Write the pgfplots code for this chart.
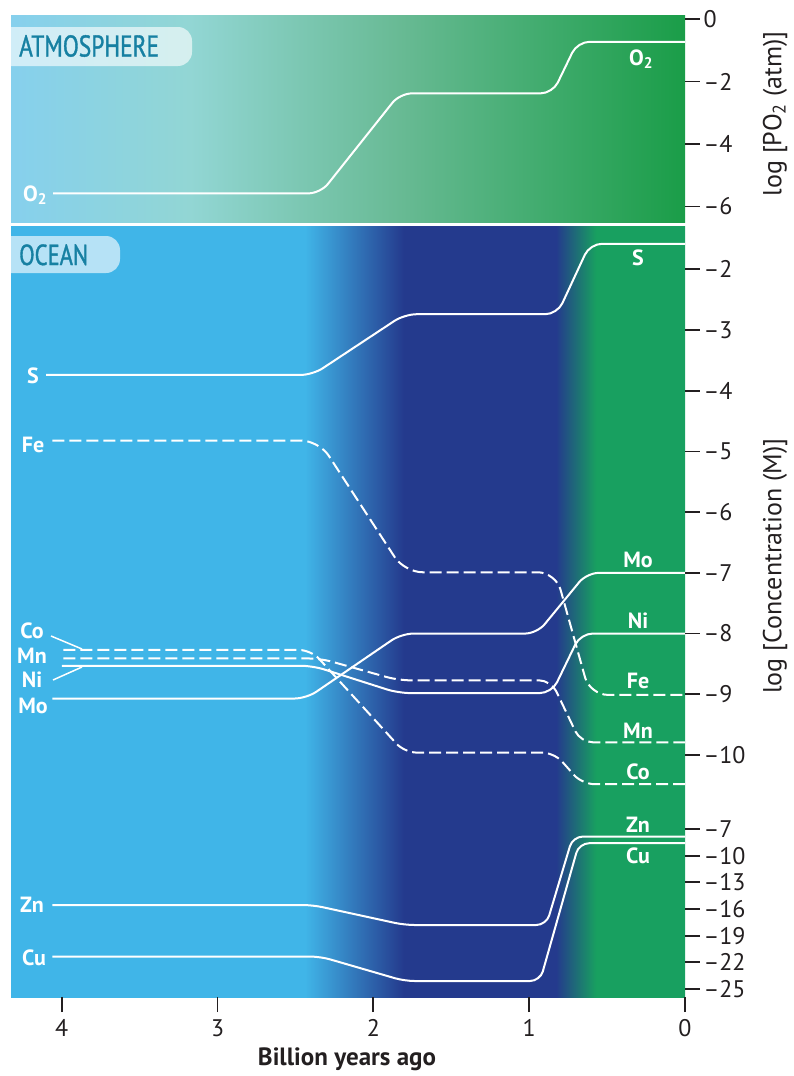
\documentclass[border=0pt]{standalone}
\usepackage{pgfplots}
\pgfplotsset{compat=1.18}
\usepackage{fontspec}
\setmainfont{PT Sans}
\newfontfamily\condfont[FakeStretch=0.78, FakeBold=1.2]{PT Sans}
\definecolor{skyL}{RGB}{134,208,237}
\definecolor{tealM}{RGB}{146,214,212}
\definecolor{greenM}{RGB}{104,186,148}
\definecolor{greenR}{RGB}{26,157,72}
\definecolor{oceanB}{RGB}{64,181,232}
\definecolor{navy}{RGB}{36,58,141}
\definecolor{oceanG}{RGB}{24,160,96}
\definecolor{labteal}{RGB}{22,128,162}
\definecolor{ink}{RGB}{35,31,32}
% shadings: the path box maps to 25bp..75bp
\pgfdeclarehorizontalshading{atmos}{100bp}{color(0bp)=(skyL); color(25bp)=(skyL); color(38.28bp)=(tealM); color(53.86bp)=(greenM); color(75bp)=(greenR); color(100bp)=(greenR)}
\pgfdeclarehorizontalshading{ocean}{100bp}{color(0bp)=(oceanB); color(46.8bp)=(oceanB); color(54.15bp)=(navy); color(65.43bp)=(navy); color(68.4bp)=(oceanG); color(100bp)=(oceanG)}
\pgfplotsset{
  panel/.style={
    scale only axis, anchor=north west, width=674pt,
    xmin=0, xmax=4.326, x dir=reverse,
    axis line style={draw=none},
    tick align=outside, major tick length=15pt,
    tick style={ink, line width=1.8pt},
    ytick pos=right, yticklabel pos=right,
    ticklabel style={font=\fontsize{24}{24}\selectfont, text=ink},
  },
  solidline/.style={white, line width=2pt},
  dashline/.style={white, line width=2pt, dash pattern=on 12pt off 5pt},
}
\begin{document}
\begin{tikzpicture}
\path[use as bounding box] (0pt,0pt) rectangle (794pt,-1076pt);
% backgrounds
\shade[shading=atmos] (11pt,-15pt) rectangle (685pt,-222pt);
\shade[shading=ocean] (11pt,-226pt) rectangle (685pt,-997pt);
% panel tags
\begin{scope}
\clip (11pt,-15pt) rectangle (685pt,-997pt);
\fill[white, opacity=0.62, rounded corners=14pt] (-20pt,-27pt) rectangle (192pt,-66pt);
\fill[white, opacity=0.62, rounded corners=14pt] (-20pt,-236pt) rectangle (120pt,-273pt);
\end{scope}
\node[anchor=base west, inner sep=0pt, text=labteal, font=\condfont\fontsize{30}{30}\selectfont] at (19pt,-56.5pt) {ATMOSPHERE};
\node[anchor=base west, inner sep=0pt, text=labteal, font=\condfont\fontsize{29}{29}\selectfont] at (19pt,-265pt) {OCEAN};

% ---------------- atmosphere axis
\begin{axis}[panel, at={(11pt,-15pt)}, height=207pt,
  ymin=-6.496, ymax=0.128,
  xtick=\empty,
  ytick={0,-2,-4,-6}, yticklabels={0,–2,–4,–6}]
\addplot[solidline, rounded corners=12pt] coordinates {
 (4.056,-5.58) (2.34,-5.58) (1.83,-2.38) (0.85,-2.38) (0.69,-0.73) (0,-0.73)};
\end{axis}

% ---------------- ocean axis
\begin{axis}[panel, at={(11pt,-226pt)}, height=771pt,
  ymin=-13.986, ymax=-1.287,
  xtick={0,1,2,3,4}, xticklabels={0,1,2,3,4}, xtick pos=left,
  xticklabel style={yshift=-4pt},
  ytick={-2,-3,-4,-5,-6,-7,-8,-9,-10},
  yticklabels={–2,–3,–4,–5,–6,–7,–8,–9,–10},
  extra y ticks={-11.219,-11.658,-12.098,-12.537,-12.976,-13.415,-13.854},
  extra y tick labels={–7,–10,–13,–16,–19,–22,–25}]
% S
\addplot[solidline, rounded corners=12pt] coordinates {
 (4.10,-3.74) (2.39,-3.74) (1.80,-2.74) (0.82,-2.74) (0.61,-1.58) (0,-1.58)};
% Fe
\addplot[dashline, rounded corners=18pt] coordinates {
 (4.06,-4.82) (2.35,-4.82) (1.80,-6.99) (0.83,-6.99) (0.61,-9.01) (0,-9.01)};
% Co
\addplot[dashline, rounded corners=12pt] coordinates {
 (3.99,-8.27) (2.40,-8.27) (1.80,-9.96) (0.84,-9.96) (0.66,-10.48) (0,-10.48)};
% Mn
\addplot[dashline, rounded corners=12pt] coordinates {
 (3.99,-8.41) (2.34,-8.41) (1.84,-8.77) (0.86,-8.77) (0.67,-9.79) (0,-9.79)};
% Ni
\addplot[solidline, rounded corners=12pt] coordinates {
 (4.00,-8.53) (2.39,-8.53) (1.84,-8.98) (0.855,-8.98) (0.67,-8.0) (0,-8.0)};
% Mo
\addplot[solidline, rounded corners=12pt] coordinates {
 (4.06,-9.07) (2.43,-9.07) (1.82,-8.0) (0.95,-8.0) (0.63,-7.0) (0,-7.0)};
% Zn (second scale, log M from -7 to -25)
\addplot[solidline, rounded corners=10pt, y filter/.expression={-11.219+(y+7)*0.1464}] coordinates {
 (4.06,-15.55) (2.39,-15.55) (1.80,-17.8) (0.89,-17.8) (0.72,-7.85) (0,-7.85)};
% Cu
\addplot[solidline, rounded corners=10pt, y filter/.expression={-11.219+(y+7)*0.1464}] coordinates {
 (4.06,-21.35) (2.34,-21.35) (1.80,-24.1) (0.93,-24.1) (0.68,-8.6) (0,-8.6)};
\end{axis}

% pointer lines
\draw[white, line width=1.5pt] (51pt,-636pt) -- (82pt,-649pt);
\draw[white, line width=1.5pt] (53pt,-680pt) -- (82pt,-667pt);

% series labels
\tikzset{lab/.style={anchor=base, inner sep=0pt, text=white, font=\bfseries\fontsize{22}{22}\selectfont}}
\node[lab] at (35pt,-201pt) {O\textsubscript{2}};
\node[lab] at (641pt,-65pt) {O\textsubscript{2}};
\node[lab] at (33pt,-383pt) {S};
\node[lab] at (33pt,-452pt) {Fe};
\node[lab] at (32pt,-638pt) {Co};
\node[lab] at (32pt,-663pt) {Mn};
\node[lab] at (32pt,-687pt) {Ni};
\node[lab] at (33pt,-713pt) {Mo};
\node[lab] at (32pt,-912pt) {Zn};
\node[lab] at (34pt,-965pt) {Cu};
\node[lab] at (638pt,-265pt) {S};
\node[lab] at (638pt,-567pt) {Mo};
\node[lab] at (638pt,-628pt) {Ni};
\node[lab] at (638pt,-688pt) {Fe};
\node[lab] at (638pt,-738pt) {Mn};
\node[lab] at (638pt,-779pt) {Co};
\node[lab] at (638pt,-832pt) {Zn};
\node[lab] at (638pt,-863pt) {Cu};

% axis titles
\node[anchor=base, inner sep=0pt, text=ink, font=\bfseries\fontsize{25}{25}\selectfont] at (347pt,-1065pt) {Billion years ago};
\node[rotate=90, inner sep=0pt, text=ink, font=\fontsize{26}{26}\selectfont] at (775pt,-114pt) {log [PO\textsubscript{2} (atm)]};
\node[rotate=90, inner sep=0pt, text=ink, font=\fontsize{26}{26}\selectfont] at (775pt,-566pt) {log [Concentration (M)]};
\end{tikzpicture}
\end{document}
